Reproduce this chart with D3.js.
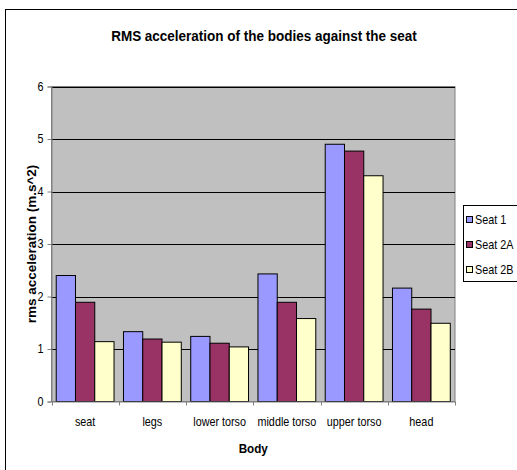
<!DOCTYPE html>
<html>
<head>
<meta charset="utf-8">
<script src="https://cdn.jsdelivr.net/npm/d3@7"></script>
<style>
  html, body { margin: 0; padding: 0; background: #fff; }
  svg { display: block; font-family: "Liberation Sans", Arial, sans-serif; }
</style>
</head>
<body>
<svg id="chart" width="517" height="470"></svg>
<script>
// Body locations along the x axis
const categories = ["seat", "legs", "lower torso", "middle torso", "upper torso", "head"];
// RMS acceleration per seat configuration (m.s^-2)
const seriesNames = ["Seat 1", "Seat 2A", "Seat 2B"];
const seat1  = [2.40, 1.33, 1.24, 2.43, 4.90, 2.16];
const seat2A = [1.89, 1.19, 1.11, 1.89, 4.77, 1.76];
const seat2B = [1.14, 1.13, 1.04, 1.58, 4.30, 1.49];
const yTicks = [0, 1, 2, 3, 4, 5, 6];
const colors = ["#9999FF", "#993366", "#FFFFCC"];

const series = [seat1, seat2A, seat2B];

// Narrow text look: glyphs squeezed horizontally
const squeeze = 0.9;

const svg = d3.select("#chart");

// Outer chart frame
svg.append("rect")
  .attr("x", 5.5).attr("y", 9.5)
  .attr("width", 530).attr("height", 480)
  .attr("fill", "#fff").attr("stroke", "#000").attr("stroke-width", 1);

const plot = { left: 51.5, right: 455, top: 86.5, bottom: 401.5 };

const x = d3.scaleBand().domain(categories).range([plot.left, plot.right]).paddingInner(0).paddingOuter(0);
const y = d3.scaleLinear().domain([0, 6]).range([plot.bottom, plot.top]);
const inner = d3.scaleBand().domain(d3.range(series.length)).range([0, x.bandwidth()]).paddingInner(0).paddingOuter(0.245);

// Plot background
svg.append("rect")
  .attr("x", plot.left).attr("y", plot.top)
  .attr("width", plot.right - plot.left).attr("height", plot.bottom - plot.top)
  .attr("fill", "#C0C0C0").attr("stroke", "#808080").attr("stroke-width", 1);

// Horizontal gridlines
svg.append("g").selectAll("line")
  .data(yTicks.filter(t => t > 0))
  .join("line")
  .attr("x1", plot.left).attr("x2", plot.right)
  .attr("y1", d => Math.round(y(d)) + 0.5).attr("y2", d => Math.round(y(d)) + 0.5)
  .attr("stroke", "#000").attr("stroke-width", 1);

// Bars
const groups = svg.append("g").selectAll("g")
  .data(categories)
  .join("g")
  .attr("transform", d => `translate(${x(d)},0)`);

groups.selectAll("rect")
  .data((d, i) => series.map((s, j) => ({ j, v: s[i] })))
  .join("rect")
  .attr("x", d => inner(d.j))
  .attr("y", d => y(d.v))
  .attr("width", inner.bandwidth())
  .attr("height", d => y(0) - y(d.v))
  .attr("fill", d => colors[d.j])
  .attr("stroke", "#000").attr("stroke-width", 1);

// Y axis
const yAxis = svg.append("g")
  .attr("transform", `translate(${plot.left},0)`)
  .call(d3.axisLeft(y).tickValues(yTicks).tickFormat(d3.format("d")).tickSizeOuter(0).tickSize(4).tickPadding(5));
yAxis.select(".domain").attr("stroke", "#808080");
yAxis.selectAll(".tick line").attr("stroke", "#808080");
yAxis.selectAll("text")
  .attr("font-size", 12).attr("font-family", "Liberation Sans, Arial, sans-serif").attr("fill", "#000")
  .attr("transform", `scale(${squeeze},1)`);

// X axis with ticks at category boundaries
const xAxis = svg.append("g")
  .attr("transform", `translate(0,${plot.bottom})`)
  .call(d3.axisBottom(x).tickSize(0).tickPadding(16).tickSizeOuter(0));
xAxis.select(".domain").attr("stroke", "#808080");
xAxis.selectAll("text")
  .attr("font-size", 12).attr("font-family", "Liberation Sans, Arial, sans-serif").attr("fill", "#000")
  .attr("transform", `scale(${squeeze},1)`);
xAxis.selectAll(".boundary")
  .data(d3.range(categories.length + 1))
  .join("line")
  .attr("class", "boundary")
  .attr("x1", i => Math.round(plot.left + i * x.step()) + 0.5)
  .attr("x2", i => Math.round(plot.left + i * x.step()) + 0.5)
  .attr("y1", 0).attr("y2", 4)
  .attr("stroke", "#808080");

// Title
svg.append("text")
  .attr("transform", `translate(264,41) scale(${squeeze},1)`)
  .attr("text-anchor", "middle")
  .attr("font-size", 15).attr("font-weight", "bold")
  .text("RMS acceleration of the bodies against the seat");

// Axis titles
svg.append("text")
  .attr("transform", `translate(${(plot.left + plot.right) / 2},453) scale(${squeeze},1)`)
  .attr("text-anchor", "middle")
  .attr("font-size", 13).attr("font-weight", "bold")
  .text("Body");

svg.append("text")
  .attr("transform", `translate(36,${(plot.top + plot.bottom) / 2}) scale(${squeeze},1) rotate(-90)`)
  .attr("text-anchor", "middle")
  .attr("font-size", 13.5).attr("font-weight", "bold")
  .text("rms acceleration (m.s^2)");

// Legend
const legend = svg.append("g");
legend.append("rect")
  .attr("x", 463.5).attr("y", 205.5)
  .attr("width", 70).attr("height", 76)
  .attr("fill", "#fff").attr("stroke", "#000");
const items = legend.selectAll("g.item")
  .data(seriesNames)
  .join("g").attr("class", "item")
  .attr("transform", (d, i) => `translate(466,${220 + i * 25})`);
items.append("rect")
  .attr("x", 0.5).attr("y", -3.5)
  .attr("width", 6).attr("height", 6)
  .attr("fill", (d, i) => colors[i]).attr("stroke", "#000");
items.append("text")
  .attr("transform", `translate(9,4) scale(${squeeze},1)`)
  .attr("font-size", 12)
  .text(d => d);
</script>
</body>
</html>
